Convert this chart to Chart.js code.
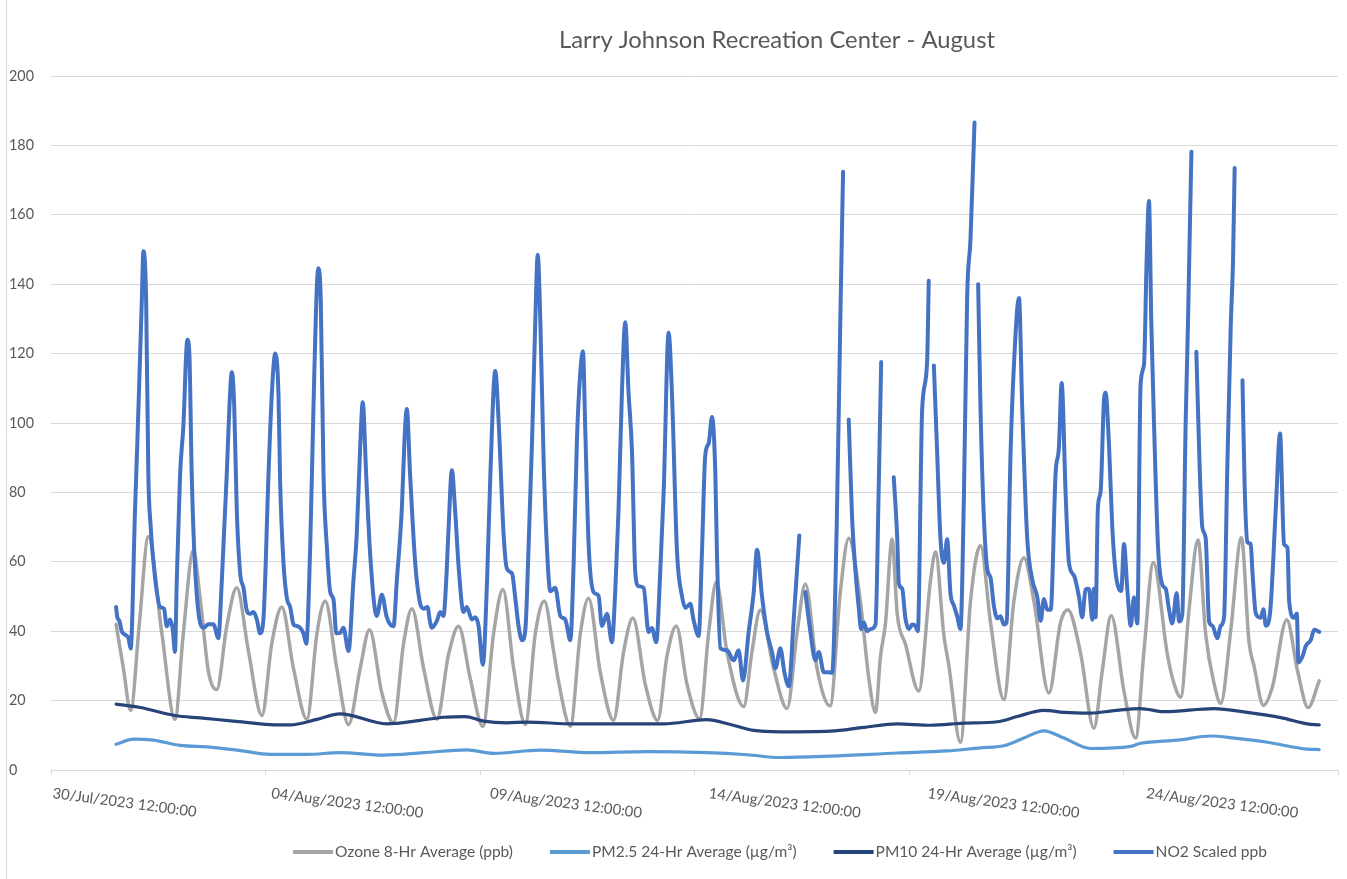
<!DOCTYPE html>
<html>
<head>
<meta charset="utf-8">
<script src="https://cdn.jsdelivr.net/npm/chart.js@4.4.1/dist/chart.umd.min.js"></script>
<style>
  html, body { margin: 0; padding: 0; background: #ffffff; }
  #wrap { position: relative; width: 1347px; height: 879px; }
</style>
</head>
<body>
<div id="wrap"><canvas id="c" width="1347" height="879"></canvas></div>
<script>
// ---------------- DATA ----------------
const chartTitle = 'Larry Johnson Recreation Center - August';
const seriesNames = ['Ozone 8-Hr Average (ppb)', 'PM2.5 24-Hr Average (\u00B5g/m\u00B3)', 'PM10 24-Hr Average (\u00B5g/m\u00B3)', 'NO2 Scaled ppb'];
// x axis: hours after 30/Jul/2023 12:00:00
const xTickHours = [0, 120, 240, 360, 480, 600];
const xTickLabels = ['30/Jul/2023 12:00:00', '04/Aug/2023 12:00:00', '09/Aug/2023 12:00:00', '14/Aug/2023 12:00:00', '19/Aug/2023 12:00:00', '24/Aug/2023 12:00:00'];
const yTicks = [0, 20, 40, 60, 80, 100, 120, 140, 160, 180, 200];

// readings: [hour, value]
const no2Readings = [[35.7,47],[36.4,44],[37.5,43],[38.8,40],[40.6,39],[42.5,38],[43.7,35],[46.1,75],[47.4,95],[48.5,113],[49.8,135],[50.7,149.5],[52.2,135],[53.4,85],[54.7,70],[56.2,60],[58.0,51.5],[59.8,47],[62.0,46.5],[63.5,41.4],[65.3,43.4],[66.8,40.4],[68.0,34],[69.0,54.5],[70.8,85],[72.6,99],[74.8,124],[75.9,120],[77.2,85],[79.0,58.6],[81.8,42.4],[83.6,41],[86.4,42],[89.1,42],[91.8,38],[93.7,54.5],[96.4,85],[97.9,105],[99.2,114.6],[100.5,105],[101.9,75],[103.8,56.6],[105.6,52.5],[107.4,46],[109.2,45],[111.1,45.5],[112.9,43.4],[114.7,39.4],[116.6,44],[119.3,85],[121.1,108],[123.0,120],[124.8,108],[125.7,83],[127.5,60],[129.4,49.5],[131.2,47],[133.0,42],[134.9,41.5],[136.6,41],[138.5,39.4],[140.0,36.4],[142.2,64.6],[144.0,105],[145.9,140],[146.7,144.6],[148.0,135],[149.5,85],[151.3,64.6],[153.1,51.5],[155.0,49],[156.5,39.4],[158.6,39.5],[160.4,41],[163.2,34.3],[165.9,54.5],[167.7,67.7],[169.6,93],[171.0,106],[172.9,85],[175.1,62],[178.7,44.4],[181.5,50.5],[184.2,44],[187.9,41.4],[189.7,54.5],[192.5,75.8],[193.9,95],[195.2,104],[197.0,85],[199.8,59.6],[202.5,48],[204.4,46.5],[206.6,47],[207.7,43.4],[208.9,41],[211.7,43],[213.5,45.5],[215.3,44.4],[216.8,54.5],[218.1,69.7],[219.9,86.4],[221.7,74.7],[223.6,58.6],[226.3,45.5],[228.1,47],[230.9,43.4],[232.7,44],[234.6,41.4],[236.9,30.3],[239.2,54.5],[241.0,84.8],[243.7,115],[245.6,100],[248.3,67.7],[250.1,58],[252.9,56.6],[254.7,49.5],[256.5,41.4],[258.4,37.4],[260.2,40.4],[262.0,64.6],[263.9,95],[265.7,130],[267.0,148.5],[268.4,130],[270.2,90],[272.0,64.6],[273.9,51.5],[276.6,52.5],[279.4,44.4],[282.1,43.4],[284.9,37.4],[286.7,59.6],[288.5,95],[290.4,115],[291.8,120.7],[293.1,97.7],[294.9,65.2],[297.6,51.3],[300.4,50.2],[302.2,41.5],[305.0,45],[307.7,36.8],[309.5,51.3],[311.3,74.5],[313.2,109],[315.0,129],[316.8,109],[318.7,91.9],[320.5,57],[322.3,53],[325.1,52.5],[327.8,39.7],[329.6,40.9],[332.0,36.8],[334.2,57],[336.1,80.3],[338.8,126],[340.6,109],[343.4,62.9],[346.1,50.2],[348.0,46.7],[350.7,47.9],[352.5,43.2],[355.3,38.6],[357.1,62.9],[358.9,90.7],[360.8,94.2],[362.6,101.7],[364.4,86],[365.3,62.9],[367.2,35.1],[370.8,34.5],[374.5,31.6],[377.2,34.5],[379.6,25.8],[382.7,39.7],[385.5,51.3],[387.3,63.5],[390.0,50.2],[392.8,39.7],[395.5,34],[397.4,29.3],[400.1,35.1],[402.3,28.2],[404.7,24.1],[407.4,43.2],[410.5,67.6],[412.0,null],[413.8,51.3],[416.6,39.7],[419.3,31.6],[421.2,34],[423.9,28.2],[426.6,28.2],[428.5,28],[431.0,70],[433.0,130],[434.5,172.4],[436.0,null],[437.6,101],[439.4,73.3],[441.3,57.3],[443.1,46.8],[444.4,40.6],[445.9,42.5],[447.7,40],[449.5,40.6],[452.3,41.9],[454.0,80],[455.4,117.6],[457.0,null],[462.3,84.4],[464.2,67],[465.1,53.6],[466.9,52.3],[468.7,43.7],[470.6,40.6],[472.4,41.9],[474.2,41.5],[475.5,40],[477.9,104],[480.6,117.6],[481.5,141],[483.0,null],[484.3,116.6],[486.1,91.7],[487.9,67],[489.8,59.7],[491.6,66.5],[493.4,51],[495.3,47.4],[497.1,44.3],[498.9,40.6],[500.8,79.4],[502.6,137],[504.4,153],[506.6,186.6],[507.6,null],[508.6,140],[509.9,104],[511.7,73.3],[513.6,57.9],[515.4,55.4],[517.2,47.4],[519.1,43.7],[520.9,44.3],[522.7,41.9],[524.2,42.5],[526.4,91.7],[528.2,116.4],[531.0,136],[532.8,104],[535.5,67],[538.3,54.8],[541.0,49.9],[542.9,43],[544.7,49.3],[546.5,46.2],[548.4,46.2],[551.1,85.6],[552.9,93],[554.4,111.5],[556.6,79.4],[558.4,59.7],[561.2,56],[563.9,49.9],[565.7,44],[567.5,52],[569.4,52.2],[571.2,43.3],[572.1,52.2],[573.0,44],[574.3,75.7],[575.8,80.4],[577.6,106.4],[578.5,108.7],[580.4,93.4],[582.2,69.8],[584.0,56.9],[585.8,52.2],[587.1,51.6],[588.6,65.1],[590.4,52.2],[592.3,41.6],[594.1,49.8],[595.9,42.2],[597.7,111],[599.6,117],[601.0,146.4],[602.3,164],[603.6,128.7],[605.1,99.3],[607.3,64],[609.6,53.4],[611.5,52.2],[613.3,46.3],[615.1,42.2],[617.5,51],[618.8,42.8],[620.6,45],[622.4,99.3],[623.7,128.7],[624.8,158],[625.6,178.2],[626.6,null],[628.3,120.5],[630.1,87.5],[631.6,69.8],[633.4,66.9],[635.3,42.8],[637.1,41.6],[639.8,38],[641.7,41.6],[643.5,44],[645.3,87.5],[647.2,128.7],[648.4,146.4],[649.3,173.5],[650.7,null],[653.6,112.3],[654.8,81.6],[656.3,65.7],[658.1,65.1],[659.1,56.9],[660.9,45.1],[663.6,43.9],[665.1,46.3],[666.4,41.6],[668.7,45.1],[671.9,75.7],[674.2,97],[676.4,65.1],[678.3,64],[679.2,48.6],[681.9,43.9],[683.4,45.1],[684.3,31],[686.5,32.7],[688.3,35.7],[691.1,37.5],[692.9,40.4],[695.7,39.8]];

const ozoneReadings = [[35.7,42],[39.7,29.3],[43.7,17.2],[48.5,42.4],[53.4,67.2],[60.8,39.4],[68.0,14.6],[72.6,39.4],[78.1,63.4],[81.8,49.5],[86.4,28.3],[90.9,23.2],[96.4,41.4],[101.9,52.5],[108.3,34.3],[115.7,15.7],[121.1,36.4],[126.6,47],[133.0,29.3],[140.4,14.6],[145.9,39.4],[150.4,48.7],[156.8,29.3],[163.2,13.1],[169.6,29.3],[174.7,40.4],[181.5,22.2],[187.9,13.6],[193.4,36.4],[198.0,46.5],[204.4,29.3],[211.7,14.6],[218.1,33.3],[223.6,41.4],[230.0,26.3],[236.9,12.6],[242.8,39.4],[247.9,52],[253.8,29.3],[260.2,13.1],[265.7,39.4],[270.6,48.7],[275.7,34.3],[278.5,25.3],[284.9,12.6],[290.4,39.4],[294.9,49.5],[301.3,28.2],[308.6,14.3],[314.1,34],[319.2,43.8],[326.0,24.7],[332.8,14.3],[337.9,32.8],[343.0,41.5],[348.9,24.7],[355.8,14.8],[360.8,39.7],[365.0,54.2],[370.8,34],[380.0,18.3],[384.5,34],[389.1,46.1],[396.4,29.3],[403.8,17.7],[409.3,39.7],[413.8,53.6],[420.2,29.3],[427.4,18.5],[433.0,51.3],[437.6,66.8],[444.0,48.6],[448.6,26.5],[452.3,16.6],[455.0,32.6],[457.8,42.5],[461.4,66.5],[464.2,45],[468.7,36.3],[476.0,22.8],[482.5,54.8],[485.2,62.8],[489.8,38.8],[492.5,30.2],[498.9,8],[504.4,48.6],[509.9,64.7],[515.4,42.5],[522.7,20.3],[528.2,48.6],[533.7,61.2],[539.2,48.6],[547.4,22.2],[553.8,42.5],[557.8,46.2],[564.8,33.6],[572.1,12],[576.7,28.6],[581.6,44.5],[588.6,22.7],[595.0,9.2],[599.6,34.5],[604.7,59.8],[612.4,33.3],[616.0,25],[619.7,21],[624.3,46.3],[629.2,66.3],[633.4,39.2],[638.0,25],[641.7,19.2],[647.2,40.4],[653.0,66.9],[657.2,36.9],[660.0,29.8],[665.1,18.6],[670.0,23.9],[677.9,43.3],[683.8,28.6],[689.6,18],[695.7,25.7]];

const pm10Readings = [[35.7,19],[48.9,18],[68.0,15.7],[81.8,15],[100.1,14.1],[120.2,13.1],[131.2,13],[145.9,14.6],[158.6,16.2],[184.2,13.3],[202.5,14.3],[215.3,15.2],[227.2,15.4],[237.3,14.1],[250.1,13.6],[261.1,13.8],[286.7,13.3],[317.8,13.3],[336.1,13.3],[359.8,14.5],[372.7,13.1],[385.5,11.4],[400.1,11],[427.6,11.2],[445.9,12.3],[464.2,13.3],[482.5,12.9],[500.8,13.5],[519.1,13.9],[530.0,15.4],[544.7,17.2],[555.7,16.6],[570.3,16.4],[583.1,17.1],[597.7,17.7],[610.6,16.8],[638.0,17.7],[656.3,16.6],[674.6,15.1],[689.2,13.3],[695.7,13]];

const pm25Readings = [[35.7,7.4],[45.2,8.9],[56.2,8.6],[70.8,7.1],[87.3,6.6],[103.8,5.6],[120.2,4.5],[140.4,4.5],[158.6,5],[182.4,4.3],[204.4,5],[228.1,5.8],[242.8,4.8],[268.4,5.7],[295.9,5],[326.9,5.3],[359.8,5],[381.8,4.4],[400.1,3.6],[427.6,4],[464.2,4.9],[491.6,5.5],[509.9,6.4],[522.7,7],[533.7,9.2],[544.7,11.3],[555.7,9.2],[570.3,6.2],[592.3,6.8],[597.7,7.7],[617.9,8.6],[636.2,9.8],[649.0,9.2],[667.3,8],[689.2,6],[695.7,5.9]];

// ---------------- STYLE ----------------
const FONT = 'Lato, "Open Sans", "Liberation Sans", sans-serif';
const TEXT = '#595959';
const GRID = '#d9d9d9';
const COLORS = { ozone: '#a5a5a5', pm25: '#5b9bd5', pm10: '#264478', no2: '#4472c4' };

const mctx = document.createElement('canvas').getContext('2d');
function fitSize(texts, target) {
  mctx.font = '100px ' + FONT;
  const w = texts.reduce((a, t) => a + mctx.measureText(t).width, 0);
  return 100 * target / w;
}
const titleSize = fitSize([chartTitle], 436);
const legendSize = fitSize(seriesNames, 695);
const xLabelSize = fitSize([xTickLabels[0], xTickLabels[5]], 298);
const yLabelSize = fitSize(['200'], 25);

const toPts = r => r.map(p => ({ x: p[0], y: p[1] }));

const overlay = {
  id: 'overlay',
  afterDraw(chart) {
    const ctx = chart.ctx;
    ctx.save();
    // faint frame edge on the left
    ctx.strokeStyle = GRID; ctx.lineWidth = 1;
    ctx.beginPath(); ctx.moveTo(6.5, 0); ctx.lineTo(6.5, 879); ctx.stroke();
    // title
    ctx.fillStyle = TEXT;
    ctx.font = titleSize.toFixed(2) + 'px ' + FONT;
    ctx.textAlign = 'center'; ctx.textBaseline = 'alphabetic';
    ctx.fillText(chartTitle, 777, 48);
    // rotated x tick labels
    const xs = chart.scales.x;
    ctx.font = xLabelSize.toFixed(2) + 'px ' + FONT;
    ctx.textAlign = 'left';
    xTickHours.forEach((h, i) => {
      const px = xs.getPixelForValue(h);
      ctx.save();
      ctx.translate(px + 1, 798);
      ctx.rotate(7.5 * Math.PI / 180);
      ctx.fillText(xTickLabels[i], 0, 0);
      ctx.restore();
    });
    // legend
    ctx.font = legendSize.toFixed(2) + 'px ' + FONT;
    const lineLen = 40, gap = 2, spacing = 37;
    const ds = chart.data.datasets;
    const widths = ds.map(d => ctx.measureText(d.label).width);
    const total = widths.reduce((a, w) => a + w + lineLen + gap, 0) + spacing * (ds.length - 1);
    let x = 780 - total / 2;
    ds.forEach((d, i) => {
      ctx.strokeStyle = d.borderColor; ctx.lineWidth = 4; ctx.lineCap = 'butt';
      ctx.beginPath(); ctx.moveTo(x, 852); ctx.lineTo(x + lineLen, 852); ctx.stroke();
      ctx.fillStyle = TEXT;
      ctx.fillText(d.label, x + lineLen + gap, 857);
      x += lineLen + gap + widths[i] + spacing;
    });
    ctx.restore();
  }
};

const common = { pointRadius: 0, pointHoverRadius: 0, cubicInterpolationMode: 'monotone', borderJoinStyle: 'round', borderCapStyle: 'round', fill: false, spanGaps: false };

new Chart(document.getElementById('c'), {
  type: 'line',
  data: {
    datasets: [
      Object.assign({ label: seriesNames[0], data: toPts(ozoneReadings), borderColor: COLORS.ozone, borderWidth: 3.5, order: 4 }, common),
      Object.assign({ label: seriesNames[1], data: toPts(pm25Readings), borderColor: COLORS.pm25, borderWidth: 3.2, order: 3 }, common),
      Object.assign({ label: seriesNames[2], data: toPts(pm10Readings), borderColor: COLORS.pm10, borderWidth: 3.2, order: 2 }, common),
      Object.assign({ label: seriesNames[3], data: toPts(no2Readings), borderColor: COLORS.no2, borderWidth: 4, order: 1 }, common)
    ]
  },
  options: {
    responsive: false,
    animation: false,
    devicePixelRatio: 1,
    events: [],
    layout: { padding: { left: 9, right: 9, top: 76, bottom: 0 } },
    plugins: { legend: { display: false }, title: { display: false }, tooltip: { enabled: false } },
    scales: {
      x: {
        type: 'linear', min: 0, max: 706,
        afterFit: s => { s.height = 109; },
        ticks: { display: false, stepSize: 120, includeBounds: false },
        grid: { drawOnChartArea: false, drawTicks: true, tickLength: 5, color: GRID },
        border: { color: GRID, width: 1 }
      },
      y: {
        type: 'linear', min: yTicks[0], max: yTicks[yTicks.length - 1],
        afterFit: s => { s.width = 42; },
        afterBuildTicks: s => { s.ticks = yTicks.map(v => ({ value: v })); },
        ticks: { crossAlign: 'far', color: TEXT, font: { family: FONT, size: yLabelSize }, padding: 0 },
        grid: { color: GRID, drawTicks: false, lineWidth: 1 },
        border: { display: false }
      }
    }
  },
  plugins: [overlay]
});
</script>
</body>
</html>
